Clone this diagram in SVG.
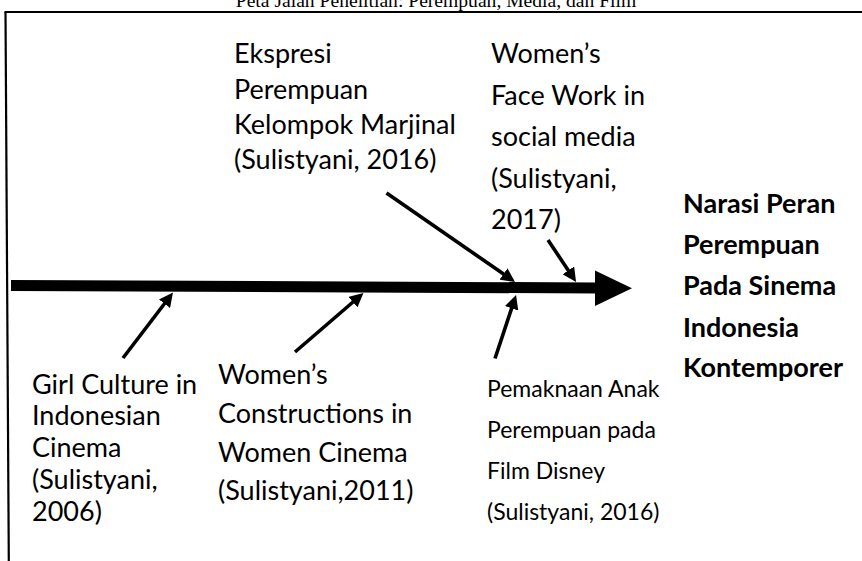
<svg xmlns="http://www.w3.org/2000/svg" width="862" height="561" viewBox="0 0 862 561">
<style>
.t{font-family:Lato,"Open Sans",sans-serif;font-size:27px;fill:#000}
.s{font-family:Lato,"Open Sans",sans-serif;font-size:23px;fill:#000}
.b{font-family:Lato,"Open Sans",sans-serif;font-size:27px;font-weight:bold;fill:#000}
.title{font-family:"Liberation Serif","Times New Roman",serif;font-size:19.6px;fill:#000}
.frame{stroke:#000;stroke-width:2.2;fill:none}
.arr{stroke:#000;stroke-width:3.6;fill:none;marker-end:url(#ah)}
</style>
<defs>
<marker id="ah" markerUnits="userSpaceOnUse" markerWidth="15" markerHeight="14" refX="4" refY="7" orient="auto" viewBox="0 0 15 14">
<path d="M0,0 L14,7 L0,14 z" fill="#000"/>
</marker>
</defs>
<rect width="862" height="561" fill="#fff"/>
<text class="title" x="436" y="7" text-anchor="middle">Peta Jalan Penelitian: Perempuan, Media, dan Film</text>
<g id="frame">
<path class="frame" d="M4.5,12 L862,12"/>
<path class="frame" d="M5.5,12 L8.8,561"/>
</g>
<g id="spine">
<path d="M11,285.5 L597,288" stroke="#000" stroke-width="11" fill="none"/>
<polygon points="595,270.5 632,288.3 595,306" fill="#000"/>
</g>
<g id="connectors">
<line class="arr" x1="123" y1="358" x2="166.9" y2="300.5"/>
<line class="arr" x1="295" y1="352" x2="355.9" y2="299.5"/>
<line class="arr" x1="386.5" y1="193" x2="506.8" y2="276.3"/>
<line class="arr" x1="548" y1="240" x2="570.5" y2="273.7"/>
<line class="arr" x1="495" y1="358.5" x2="512.9" y2="304.5"/>
</g>
<g id="n-ekspresi">
<text class="t" x="234" y="63">Ekspresi</text>
<text class="t" x="234" y="98.5">Perempuan</text>
<text class="t" x="234" y="133.5">Kelompok Marjinal</text>
<text class="t" x="234" y="168.5">(Sulistyani, 2016)</text>
</g>
<g id="n-facework">
<text class="t" x="491" y="63">Women’s</text>
<text class="t" x="491" y="104.5">Face Work in</text>
<text class="t" x="491" y="146">social media</text>
<text class="t" x="491" y="187.5">(Sulistyani,</text>
<text class="t" x="491" y="229">2017)</text>
</g>
<g id="n-narasi">
<text class="b" x="683" y="213">Narasi Peran</text>
<text class="b" x="683" y="254">Perempuan</text>
<text class="b" x="683" y="295">Pada Sinema</text>
<text class="b" x="683" y="336.5">Indonesia</text>
<text class="b" x="683" y="377">Kontemporer</text>
</g>
<g id="n-girlculture">
<text class="t" x="32" y="393.5">Girl Culture in</text>
<text class="t" x="32" y="425">Indonesian</text>
<text class="t" x="32" y="456.5">Cinema</text>
<text class="t" x="32" y="488.5">(Sulistyani,</text>
<text class="t" x="32" y="520.5">2006)</text>
</g>
<g id="n-constructions">
<text class="t" x="218" y="384">Women’s</text>
<text class="t" x="218" y="423">Constructions in</text>
<text class="t" x="218" y="461.5">Women Cinema</text>
<text class="t" x="218" y="500">(Sulistyani,2011)</text>
</g>
<g id="n-pemaknaan">
<text class="s" x="487" y="397">Pemaknaan Anak</text>
<text class="s" x="487" y="438">Perempuan pada</text>
<text class="s" x="487" y="479">Film Disney</text>
<text class="s" x="487" y="520">(Sulistyani, 2016)</text>
</g>
</svg>
